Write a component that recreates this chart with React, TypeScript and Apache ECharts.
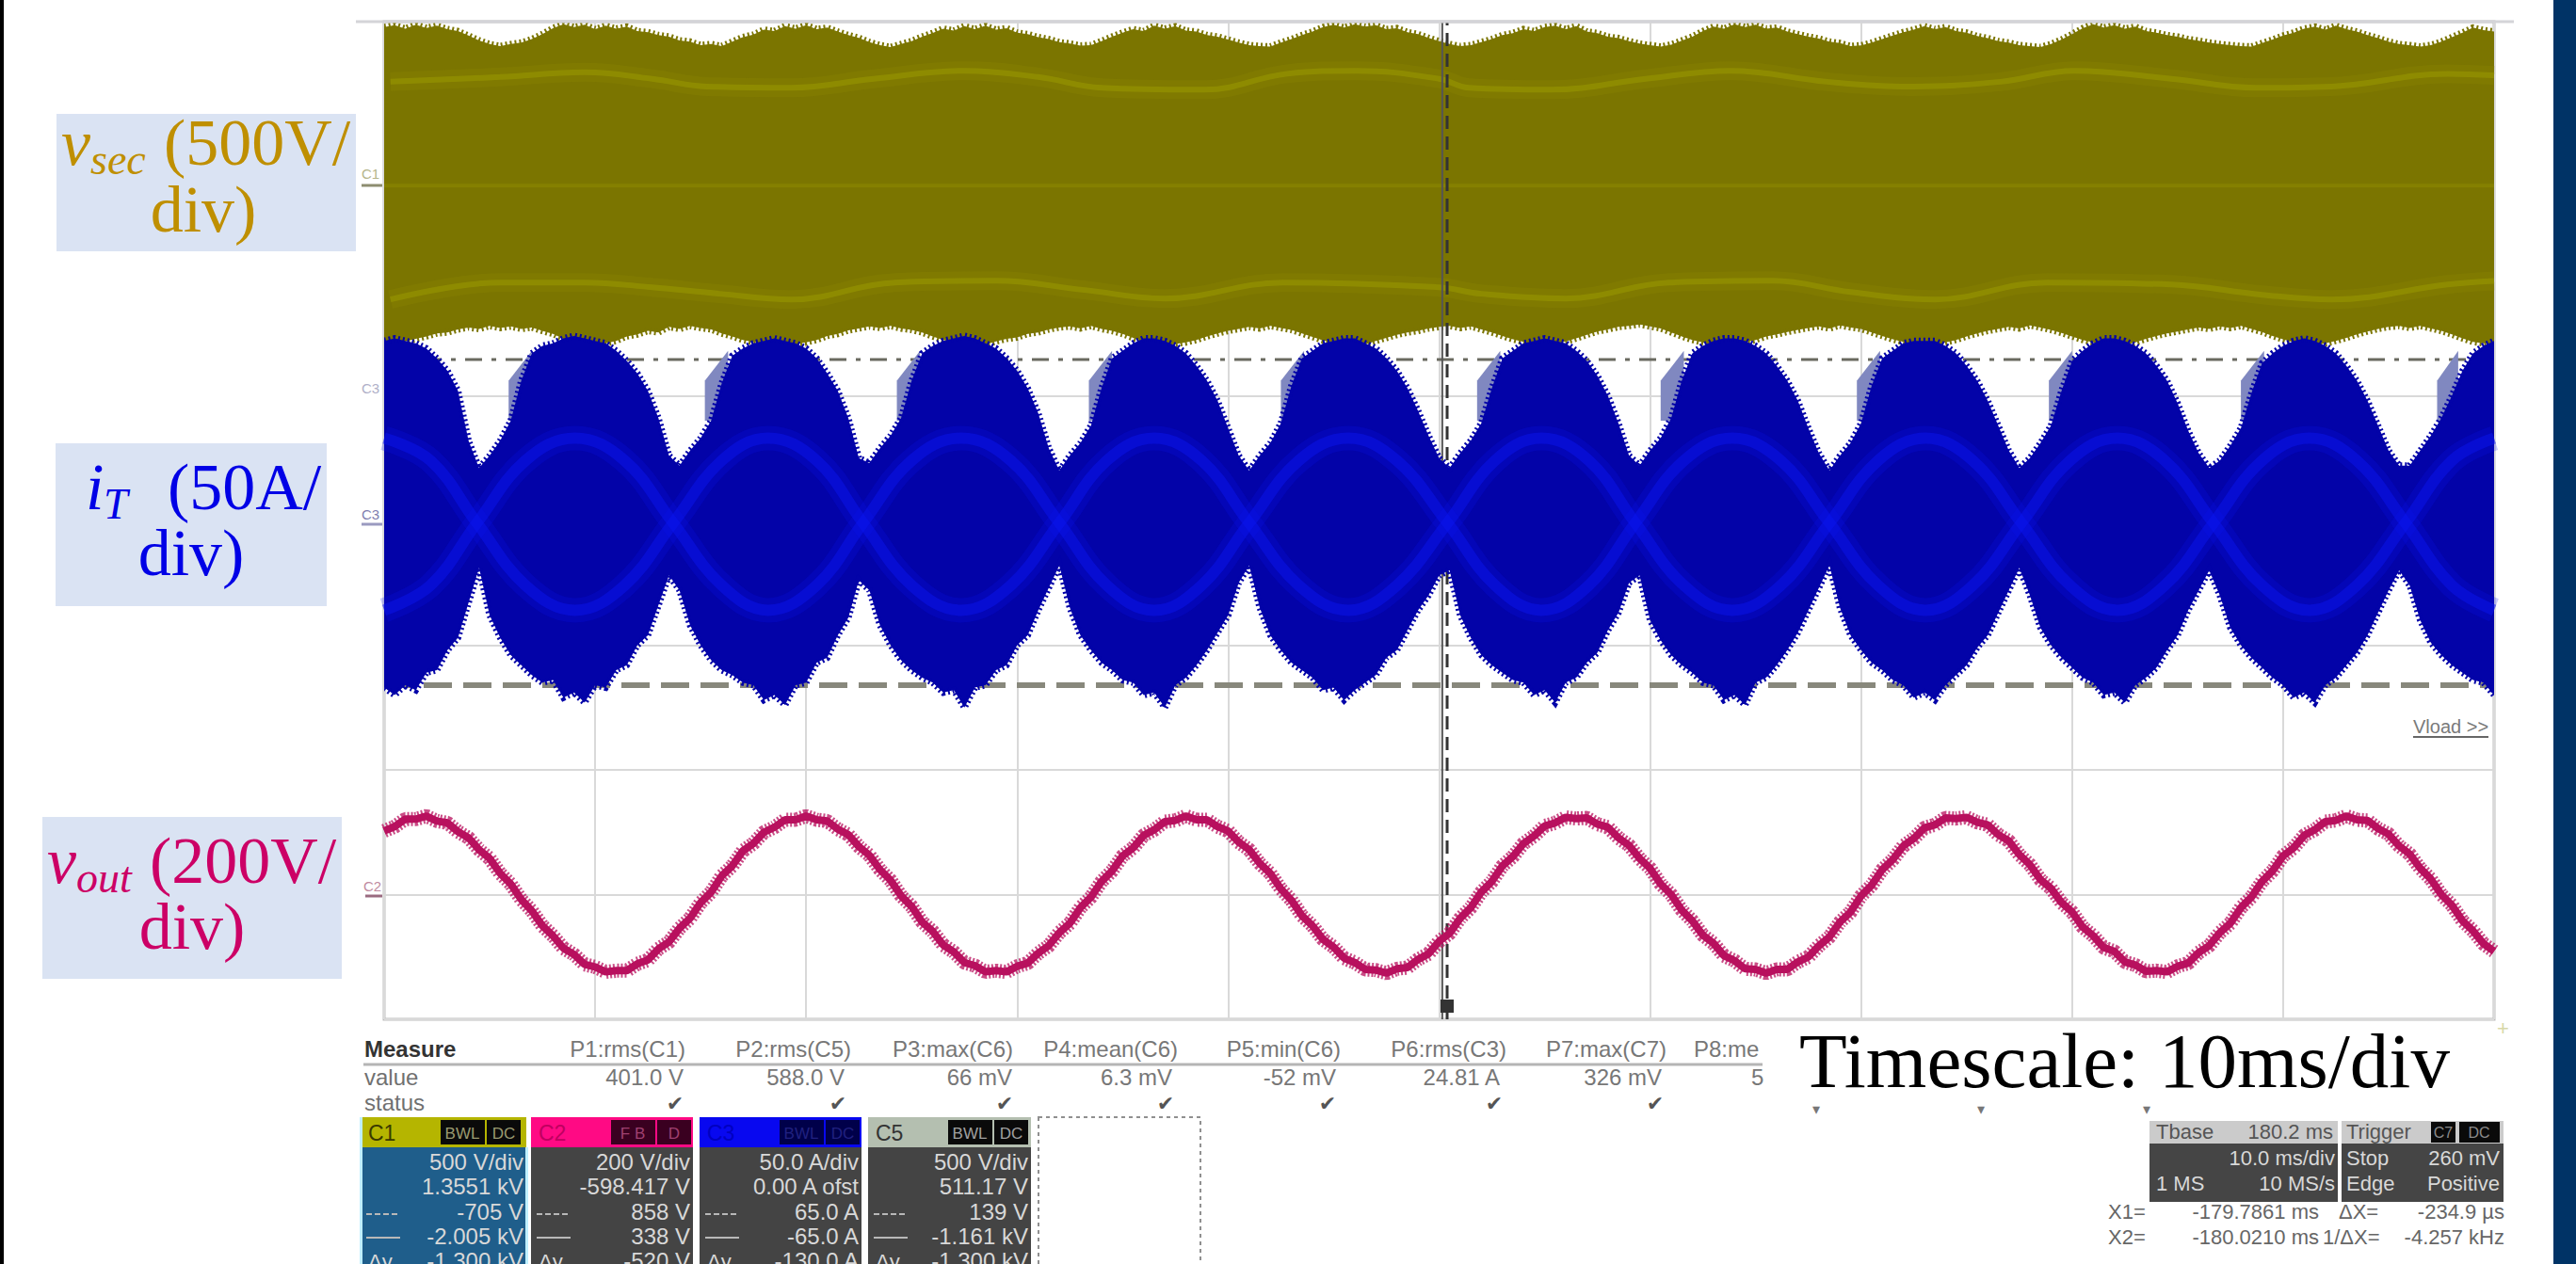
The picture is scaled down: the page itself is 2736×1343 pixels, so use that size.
import React, { useEffect, useRef } from "react";
import * as echarts from "echarts";

const SAMPLE_MS = 0.5;

// v_sec envelope (V), one value per 0.5 ms
const vSecUpper = [
  628,636,622,638,625,634,620,612,594,575,
  560,552,560,566,580,600,624,640,628,638,
  620,634,622,630,612,608,596,590,575,570,
  556,560,552,570,588,598,618,612,632,622,
  636,620,626,610,596,585,568,556,548,560,
  572,590,605,622,614,632,620,634,618,624,
  606,600,588,580,568,562,554,556,572,590,
  606,620,612,634,622,632,614,610,596,590,
  578,566,556,552,550,566,580,596,610,628,
  638,626,640,630,636,620,624,608,600,585,
  572,560,552,556,568,580,596,604,620,612,
  628,634,620,632,610,604,590,584,572,562,
  556,550,558,574,590,612,630,622,640,628,
  638,622,626,610,600,590,582,570,564,552,
  555,566,580,594,608,618,632,620,628,612,
  606,592,584,572,566,556,552,548,560,578,
  600,624,640,626,636,622,630,612,606,596,
  590,580,574,566,560,556,552,550,564,578,
  594,606,622,630,618,634,620,610,596,584,
  570,560,556,550,556,570,588,606,626,616,
  610,
];
const vSecLower = [
  -636,-644,-632,-622,-612,-600,-596,-584,-576,-582,
  -570,-578,-572,-582,-576,-590,-602,-622,-636,-642,
  -648,-640,-630,-612,-604,-590,-596,-574,-582,-570,
  -578,-584,-600,-612,-626,-634,-640,-646,-638,-642,
  -636,-626,-610,-602,-588,-580,-572,-578,-570,-580,
  -586,-596,-612,-626,-636,-646,-640,-644,-632,-622,
  -616,-602,-596,-584,-576,-572,-580,-570,-582,-590,
  -602,-618,-630,-640,-648,-642,-636,-626,-612,-600,
  -590,-582,-574,-580,-570,-578,-586,-600,-614,-628,
  -638,-646,-640,-644,-630,-618,-606,-596,-590,-580,
  -574,-570,-578,-572,-584,-596,-610,-624,-634,-642,
  -648,-640,-632,-620,-606,-592,-584,-574,-570,-564,
  -572,-580,-596,-612,-626,-636,-644,-640,-646,-636,
  -626,-612,-604,-594,-586,-578,-572,-580,-568,-576,
  -582,-596,-610,-624,-634,-642,-640,-648,-636,-626,
  -612,-600,-590,-582,-574,-580,-568,-576,-586,-598,
  -612,-626,-636,-644,-640,-646,-636,-622,-610,-600,
  -592,-584,-576,-582,-572,-578,-570,-582,-594,-610,
  -624,-636,-642,-648,-640,-630,-618,-604,-592,-582,
  -574,-570,-578,-570,-580,-590,-604,-620,-634,-640,
  -644,
];
// brighter strands inside the v_sec band: [ms], [V]
const vSecStrandUpperT = [0.3,5.5,9.5,12.7,15.3,19.3,23.2,27.5,31,34,38.9,42.8,46.1,50,51.4,55.3,59.8,63.8,68.4,72.3,76.6,80.1,84.7,88.7,92.3,97.8,100];
const vSecStrandUpperV = [409,428,447,421,390,385,421,453,428,385,377,441,453,421,385,377,421,453,409,390,409,453,421,385,390,441,435];
const vSecStrandLowerT = [0.3,5.5,9.5,12.7,15.9,19.3,24.2,29,33.2,37,42.6,50,52,56,60.9,65.8,69.5,73.5,78.8,84.7,89,92.3,97.8,100];
const vSecStrandLowerV = [-464,-396,-396,-415,-441,-464,-396,-389,-426,-460,-396,-415,-441,-460,-396,-389,-434,-464,-396,-404,-445,-464,-404,-390];

// i_T envelope (A), one value per 0.5 ms
const iTUpper = [
  72,73,72,71,69,65,60,52,32,21,
  26,32,40,56,67,70,71,73,74,73,
  72,71,68,64,59,52,41,26,22,28,
  33,40,55,66,69,71,72,73,72,71,
  69,65,59,52,41,25,23,29,34,41,
  56,67,70,72,73,74,73,71,69,65,
  60,53,43,29,20,26,31,38,53,65,
  68,71,73,73,72,70,67,62,56,48,
  37,26,20,26,31,39,54,65,68,71,
  72,73,73,71,69,65,60,53,44,34,
  25,21,27,32,39,53,65,68,71,72,
  73,72,71,68,64,58,50,39,26,22,
  28,33,41,56,67,70,72,73,73,72,
  70,67,62,56,48,37,27,20,26,31,
  39,54,65,68,71,72,72,72,70,67,
  62,56,48,38,28,21,25,31,38,52,
  64,68,71,73,73,72,70,67,62,56,
  47,36,27,21,24,30,37,51,63,67,
  70,72,73,72,70,67,62,56,48,38,
  28,22,22,28,34,41,50,60,67,70,
  72,
];
const iTLower = [
  -67,-70,-66,-68,-61,-60,-52,-47,-33,-19,
  -38,-47,-54,-58,-62,-65,-64,-71,-69,-73,
  -66,-67,-60,-58,-50,-46,-34,-22,-28,-42,
  -50,-56,-60,-62,-65,-66,-72,-70,-74,-66,
  -65,-57,-55,-46,-39,-24,-28,-42,-50,-56,
  -60,-63,-65,-69,-68,-75,-67,-66,-60,-58,
  -50,-46,-36,-27,-18,-35,-46,-52,-57,-60,
  -64,-65,-70,-69,-75,-66,-63,-58,-52,-45,
  -38,-25,-18,-35,-46,-52,-57,-60,-63,-68,
  -67,-72,-68,-65,-62,-55,-52,-44,-36,-30,
  -22,-20,-38,-47,-54,-58,-61,-64,-65,-70,
  -68,-73,-65,-63,-57,-53,-44,-37,-25,-22,
  -40,-48,-54,-58,-61,-65,-66,-72,-70,-74,
  -65,-63,-58,-52,-45,-36,-27,-18,-35,-46,
  -52,-57,-60,-64,-66,-71,-69,-72,-66,-62,
  -58,-51,-46,-37,-28,-19,-30,-43,-50,-55,
  -59,-63,-65,-70,-69,-73,-66,-63,-59,-52,
  -46,-36,-28,-20,-30,-43,-50,-55,-59,-63,
  -66,-71,-69,-73,-66,-63,-58,-53,-46,-37,
  -28,-20,-26,-40,-49,-54,-58,-61,-64,-65,
  -70,
];
// bright crossing sinusoids inside the i_T band
const iTRibbonT = [0,2.2,4.4,6.7,9.05,11.4,13.7,16,18.2,20.5,22.7,25,27.35,29.7,32,34.25,36.5,38.75,41,43.35,45.7,48,50.4,52.65,54.85,57.1,59.3,61.6,63.9,66.2,68.5,70.8,73.05,75.3,77.6,79.9,82.15,84.4,86.7,89,91.25,93.5,95.8,98,100];
const iTRibbonA = [33,24,-1,-26,-36,-26,-1,24,33,24,-1,-26,-36,-26,-1,24,33,24,-1,-26,-36,-26,-1,24,33,24,-1,-26,-36,-26,-1,24,33,24,-1,-26,-36,-26,-1,24,33,24,-1,-26,-36];
const iTRibbonB = [-36,-26,-1,24,33,24,-1,-26,-36,-26,-1,24,33,24,-1,-26,-36,-26,-1,24,33,24,-1,-26,-36,-26,-1,24,33,24,-1,-26,-36,-26,-1,24,33,24,-1,-26,-36,-26,-1,24,33];
// lighter strips on the rising edge of each i_T lobe: start ms, end ms
const iTFaintStart = [5.9,15.2,24.3,33.4,42.5,51.8,60.5,69.8,78.9,88,97.3];
const iTFaintEnd = [7,16.3,25.4,34.5,43.6,52.9,61.6,70.9,80,89.1,98.3];
const iTFaintTopLeft = 56;
const iTFaintTopRight = 68;
const iTFaintBottom = 40;

// v_out (V), one value per 0.5 ms
const vOut = [
  102,109,121,121,126,118,115,101,91,72,
  58,34,17,-8,-26,-50,-66,-86,-96,-112,
  -116,-124,-122,-122,-111,-105,-87,-76,-54,-38,
  -13,4,30,46,70,82,100,108,120,120,
  126,120,118,105,96,77,63,40,23,-2,
  -19,-44,-59,-81,-92,-109,-114,-124,-122,-124,
  -115,-110,-94,-82,-61,-46,-21,-4,21,38,
  62,75,95,104,117,119,126,120,120,109,
  102,84,72,50,34,9,-9,-34,-50,-72,
  -84,-102,-109,-120,-121,-126,-119,-117,-104,-95,
  -75,-62,-38,-21,4,21,46,61,82,94,
  110,115,124,122,123,113,108,91,79,58,
  42,17,0,-25,-42,-65,-78,-98,-106,-119,
  -120,-126,-120,-120,-108,-100,-82,-68,-44,-28,
  -2,15,40,56,78,90,107,112,123,122,
  124,116,112,96,86,64,48,24,10,-13,
  -28,-52,-66,-85,-91,-108,-113,-123,-122,-124,
  -115,-110,-93,-82,-61,-46,-21,-4,21,38,
  62,75,95,104,117,119,126,120,119,106,
  97,78,65,42,25,0,-17,-42,-58,-79,
  -91,
];

const cursorSolidMs = 50.15;
const cursorDashMs = 50.38;
const levelHighA = 64.5;
const levelLowA = -66;
const vSecCentreV = -8;

const measureHeads = ["P1:rms(C1)", "P2:rms(C5)", "P3:max(C6)", "P4:mean(C6)", "P5:min(C6)", "P6:rms(C3)", "P7:max(C7)"];
const measureVals = ["401.0 V", "588.0 V", "66 mV", "6.3 mV", "-52 mV", "24.81 A", "326 mV"];
const channelNames = ["C1", "C2", "C3", "C5"];
const channelRows = [
  ["500 V/div", "1.3551 kV", "-705 V", "-2.005 kV", "-1.300 kV"],
  ["200 V/div", "-598.417 V", "858 V", "338 V", "-520 V"],
  ["50.0 A/div", "0.00 A ofst", "65.0 A", "-65.0 A", "-130.0 A"],
  ["500 V/div", "511.17 V", "139 V", "-1.161 kV", "-1.300 kV"],
];

const SERIF = '"Liberation Serif", serif';
const SANS = '"Liberation Sans", Arial, sans-serif';
const Z = 100;

function T(text: string, x: number, base: number, size: number, fill: string, align = "left", opts: any = {}) {
  const family = opts.family || SANS;
  const italic = opts.italic ? "italic " : "";
  const weight = opts.bold ? "bold " : "";
  return {
    type: "text",
    z: Z + 2,
    silent: true,
    x,
    y: base - size * 0.34,
    style: {
      text,
      font: `${italic}${weight}${size}px ${family}`,
      fill,
      textAlign: align,
      textVerticalAlign: "middle",
    },
  };
}
function R(x: number, y: number, w: number, h: number, fill: string, extra: any = {}) {
  return { type: "rect", z: Z, silent: true, shape: { x, y, width: w, height: h }, style: { fill, ...extra } };
}
function L(x1: number, y1: number, x2: number, y2: number, stroke: string, lineWidth = 2, lineDash?: number[]) {
  return { type: "line", z: Z, silent: true, shape: { x1, y1, x2, y2 }, style: { stroke, lineWidth, lineDash } };
}

function bandSeries(name: string, upper: number[], lower: number[], fill: string, yAxisIndex: number, z: number, comb: number) {
  const data = upper.map((u, i) => [i * SAMPLE_MS, u, lower[i]]);
  return {
    name,
    type: "custom",
    yAxisIndex,
    z,
    silent: true,
    clip: true,
    encode: { x: 0, y: [1, 2] },
    data,
    renderItem(params: any, api: any) {
      if (params.dataIndex !== 0) return null;
      const top = data.map((d) => api.coord([d[0], d[1]]));
      const bottom = data.map((d) => api.coord([d[0], d[2]])).reverse();
      return {
        type: "polygon",
        shape: { points: top.concat(bottom) },
        style: { fill, stroke: fill, lineWidth: comb, lineDash: [2, 3] },
      };
    },
  };
}

function lineSeries(name: string, data: number[][], color: string, width: number, yAxisIndex: number, z: number, extra: any = {}, smooth: any = false) {
  return {
    name,
    type: "line",
    data,
    yAxisIndex,
    z,
    symbol: "none",
    silent: true,
    smooth,
    lineStyle: { color, width, ...extra },
  };
}

const zip = (t: number[], v: number[]) => t.map((x, i) => [x, v[i]]);

function buildGraphics() {
  const g: any[] = [];
  // page edges
  g.push(R(0, 0, 4, 1343, "#000000"));
  g.push(R(2712, 0, 24, 1343, "#003366"));
  g.push(L(378, 23, 2670, 23, "#d4d4d8", 3));

  // trace labels
  g.push(R(60, 121, 318, 146, "#DAE3F3"));
  g.push(T("v", 65, 175, 70, "#BF8F00", "left", { family: SERIF, italic: true }));
  g.push(T("sec", 96, 185, 46, "#BF8F00", "left", { family: SERIF, italic: true }));
  g.push(T("(500V/", 174, 175, 70, "#BF8F00", "left", { family: SERIF }));
  g.push(T("div)", 216, 246, 70, "#BF8F00", "center", { family: SERIF }));

  g.push(R(59, 471, 288, 173, "#DAE3F3"));
  g.push(T("i", 91, 541, 70, "#0000E6", "left", { family: SERIF, italic: true }));
  g.push(T("T", 110, 551, 46, "#0000E6", "left", { family: SERIF, italic: true }));
  g.push(T("(50A/", 178, 541, 70, "#0000E6", "left", { family: SERIF }));
  g.push(T("div)", 203, 611, 70, "#0000E6", "center", { family: SERIF }));

  g.push(R(45, 868, 318, 172, "#DAE3F3"));
  g.push(T("v", 50, 938, 70, "#CC0066", "left", { family: SERIF, italic: true }));
  g.push(T("out", 81, 948, 46, "#CC0066", "left", { family: SERIF, italic: true }));
  g.push(T("(200V/", 159, 938, 70, "#CC0066", "left", { family: SERIF }));
  g.push(T("div)", 204, 1008, 70, "#CC0066", "center", { family: SERIF }));

  // channel tags left of the plot
  g.push(T("C1", 384, 190, 15, "#b5b58a"));
  g.push(L(384, 197, 406, 197, "#8d8d70", 3));
  g.push(T("C3", 384, 418, 15, "#b0b0c8"));
  g.push(T("C3", 384, 552, 15, "#7f7fb0"));
  g.push(L(384, 557, 406, 557, "#9a9ac0", 3));
  g.push(T("C2", 386, 947, 15, "#c08aa0"));
  g.push(L(388, 952, 406, 952, "#9a6a80", 3));
  g.push(T("Vload >>", 2563, 779, 20, "#7a7a7a"));
  g.push(L(2563, 783, 2643, 783, "#666666", 2));
  g.push(T("+", 2652, 1100, 22, "#d8d8a8"));
  g.push(R(1530, 1062, 14, 14, "#333333"));

  // measure table
  g.push(T("Measure", 387, 1123, 24, "#333333", "left", { bold: true }));
  g.push(T("value", 387, 1153, 24, "#707070"));
  g.push(T("status", 387, 1180, 24, "#707070"));
  g.push(L(386, 1131, 1872, 1131, "#b5b5b5", 3));
  const headR = [728, 904, 1076, 1251, 1424, 1600, 1770];
  const valR = [726, 897, 1075, 1245, 1419, 1593, 1765];
  const tickX = [717, 890, 1067, 1238, 1410, 1587, 1758];
  measureHeads.forEach((h, i) => g.push(T(h, headR[i], 1123, 24, "#777777", "right")));
  measureVals.forEach((v, i) => g.push(T(v, valR[i], 1153, 24, "#777777", "right")));
  tickX.forEach((x) => g.push(T("✔", x, 1180, 22, "#555555", "center", { family: '"DejaVu Sans"' })));
  [1929, 2104, 2280].forEach((x) => g.push(T("▾", x, 1184, 16, "#777777", "center", { family: '"DejaVu Sans"' })));
  g.push(T("P8:me", 1799, 1123, 24, "#777777"));
  g.push(T("5", 1860, 1153, 24, "#777777"));

  // channel boxes
  const colX = [383, 564, 743, 922];
  const colW = [176, 172, 172, 173];
  const heads = ["#B5B500", "#FF0A84", "#0808F0", "#B4BFB0"];
  const headText = ["#3a3a00", "#c00060", "#0000c0", "#333333"];
  const tagFill = ["#0a0a0a", "#3a0020", "#00004a", "#0a0a0a"];
  const tagText = ["#9a9a70", "#a04070", "#202080", "#a0a0a0"];
  const tagA = ["BWL", "F B", "BWL", "BWL"];
  const body = ["#1F5E8B", "#444444", "#444444", "#444444"];
  channelNames.forEach((name, c) => {
    const x = colX[c];
    const w = colW[c];
    g.push(R(x, 1187, w, 32, heads[c]));
    g.push(R(x + 85, 1190, 47, 26, tagFill[c]));
    g.push(R(x + 134, 1190, 36, 26, tagFill[c]));
    g.push(T(name, x + 8, 1212, 23, headText[c]));
    g.push(T(tagA[c], x + 108, 1210, 17, tagText[c], "center"));
    g.push(T(c === 1 ? "D" : "DC", x + 152, 1210, 17, tagText[c], "center"));
    g.push(R(x, 1219, w, 130, body[c]));
    if (c === 0) {
      g.push(R(x - 1, 1187, 3, 160, "#BFEFFF"));
      g.push(R(x + w - 1, 1219, 3, 130, "#BFEFFF"));
    }
    const bases = [1243, 1269, 1296, 1322, 1348];
    channelRows[c].forEach((row, r) => {
      g.push(T(row, x + w - 3, bases[r], 24, "#d8d8d8", "right"));
    });
    g.push(L(x + 6, 1290, x + 42, 1290, "#b8b8b8", 2, [6, 3]));
    g.push(L(x + 6, 1315, x + 42, 1315, "#b8b8b8", 2));
    g.push(T("Δy", x + 8, 1348, 22, "#d8d8d8"));
  });
  g.push({
    type: "rect",
    z: Z,
    silent: true,
    shape: { x: 1103, y: 1187, width: 172, height: 170 },
    style: { fill: "#ffffff", stroke: "#909090", lineWidth: 2, lineDash: [4, 4] },
  });

  // time base panel
  g.push(R(2283, 1191, 200, 24, "#CBCBCB"));
  g.push(R(2487, 1191, 172, 24, "#CBCBCB"));
  g.push(R(2283, 1215, 200, 62, "#454545"));
  g.push(R(2487, 1215, 172, 62, "#454545"));
  g.push(R(2582, 1192, 26, 22, "#0a0a0a"));
  g.push(R(2612, 1192, 43, 22, "#0a0a0a"));
  g.push(T("Tbase", 2290, 1210, 22, "#555555"));
  g.push(T("180.2 ms", 2478, 1210, 22, "#555555", "right"));
  g.push(T("Trigger", 2492, 1210, 22, "#555555"));
  g.push(T("C7", 2595, 1209, 16, "#8a8a8a", "center"));
  g.push(T("DC", 2633, 1209, 16, "#8a8a8a", "center"));
  g.push(T("10.0 ms/div", 2480, 1238, 22, "#d8d8d8", "right"));
  g.push(T("Stop", 2492, 1238, 22, "#d8d8d8"));
  g.push(T("260 mV", 2655, 1238, 22, "#d8d8d8", "right"));
  g.push(T("1 MS", 2290, 1265, 22, "#d8d8d8"));
  g.push(T("10 MS/s", 2480, 1265, 22, "#d8d8d8", "right"));
  g.push(T("Edge", 2492, 1265, 22, "#d8d8d8"));
  g.push(T("Positive", 2655, 1265, 22, "#d8d8d8", "right"));
  g.push(T("X1=", 2239, 1295, 22, "#666666"));
  g.push(T("-179.7861 ms", 2463, 1295, 22, "#666666", "right"));
  g.push(T("ΔX=", 2484, 1295, 22, "#666666"));
  g.push(T("-234.9 µs", 2660, 1295, 22, "#666666", "right"));
  g.push(T("X2=", 2239, 1322, 22, "#666666"));
  g.push(T("-180.0210 ms", 2463, 1322, 22, "#666666", "right"));
  g.push(T("1/ΔX=", 2467, 1322, 22, "#666666"));
  g.push(T("-4.257 kHz", 2660, 1322, 22, "#666666", "right"));

  // time scale caption on its white patch
  g.push({ ...R(1872, 1090, 780, 84, "#ffffff"), z: Z + 1 });
  g.push(T("Timescale: 10ms/div", 1911, 1155, 83, "#000000", "left", { family: SERIF }));
  return g;
}

export default function App() {
  const ref = useRef<HTMLDivElement>(null);
  useEffect(() => {
    document.body.style.margin = "0";
    document.body.style.background = "#ffffff";
    const chart = echarts.init(ref.current!, undefined, { renderer: "svg" });
    const hiddenY = { type: "value", axisLine: { show: false }, axisTick: { show: false }, axisLabel: { show: false }, splitLine: { show: false } };
    const vOutPoints = vOut.map((v, i) => [i * SAMPLE_MS, v]);
    const strandUpper = zip(vSecStrandUpperT, vSecStrandUpperV);
    const strandLower = zip(vSecStrandLowerT, vSecStrandLowerV);
    const ribbonA = zip(iTRibbonT, iTRibbonA);
    const ribbonB = zip(iTRibbonT, iTRibbonB);
    const option: any = {
      animation: false,
      backgroundColor: "#ffffff",
      grid: { left: 408, top: 23, width: 2241, height: 1060, show: true, borderColor: "#bdbdbd", borderWidth: 3, backgroundColor: "#ffffff" },
      xAxis: {
        type: "value",
        min: 0,
        max: 100,
        interval: 10,
        axisLine: { show: false },
        axisTick: { show: false },
        axisLabel: { show: false },
        splitLine: { show: true, lineStyle: { color: "#d9d9d9", width: 2 } },
      },
      yAxis: [
        { ...hiddenY, min: -200, max: 1400, interval: 200, splitLine: { show: true, lineStyle: { color: "#d9d9d9", width: 2 } } },
        { ...hiddenY, min: -200, max: 200, interval: 50 },
        { ...hiddenY, min: -3350, max: 650, interval: 500 },
      ],
      graphic: { elements: buildGraphics() },
      series: [
        lineSeries("level high", [[0, levelHighA], [100, levelHighA]], "#6a6a60", 3, 1, 2, { type: [18, 10, 5, 10] }),
        lineSeries("level low", [[0, levelLowA], [100, levelLowA]], "#88887c", 6, 1, 2, { type: [30, 12] }),
        bandSeries("v_sec", vSecUpper, vSecLower, "#7B7500", 2, 3, 7),
        lineSeries("v_sec centre", [[0, vSecCentreV], [100, vSecCentreV]], "#858000", 4, 2, 4),
        lineSeries("v_sec haze upper", strandUpper, "#8F8D00", 20, 2, 4, { opacity: 0.25 }, 0.4),
        lineSeries("v_sec haze lower", strandLower, "#8F8D00", 20, 2, 4, { opacity: 0.25 }, 0.4),
        lineSeries("v_sec strand upper", strandUpper, "#939200", 6, 2, 4, { opacity: 0.75 }, 0.4),
        lineSeries("v_sec strand lower", strandLower, "#939200", 6, 2, 4, { opacity: 0.75 }, 0.4),
        lineSeries("cursor solid", [[cursorSolidMs, -200], [cursorSolidMs, 1400]], "#555555", 2, 0, 5),
        lineSeries("cursor dash", [[cursorDashMs, -200], [cursorDashMs, 1400]], "#333333", 3, 0, 5, { type: [14, 8] }),
        {
          name: "i_T faint",
          type: "custom",
          yAxisIndex: 1,
          z: 6,
          silent: true,
          encode: { x: [0, 1], y: [2, 3, 4] },
          data: iTFaintStart.map((s, i) => [s, iTFaintEnd[i], iTFaintTopLeft, iTFaintTopRight, iTFaintBottom]),
          renderItem(_p: any, api: any) {
            const x0 = api.value(0);
            const x1 = api.value(1);
            const points = [
              api.coord([x0, api.value(4)]),
              api.coord([x0, api.value(2)]),
              api.coord([x1, api.value(3)]),
              api.coord([x1, api.value(4)]),
            ];
            return { type: "polygon", shape: { points }, style: { fill: "#8088C0" } };
          },
        },
        bandSeries("i_T", iTUpper, iTLower, "#0303A8", 1, 7, 7),
        lineSeries("i_T haze A", ribbonA, "#0A14EE", 26, 1, 8, { opacity: 0.22 }, 0.4),
        lineSeries("i_T haze B", ribbonB, "#0A14EE", 26, 1, 8, { opacity: 0.22 }, 0.4),
        lineSeries("i_T ribbon A", ribbonA, "#0A14EE", 12, 1, 8, { opacity: 0.5 }, 0.4),
        lineSeries("i_T ribbon B", ribbonB, "#0A14EE", 12, 1, 8, { opacity: 0.5 }, 0.4),
        lineSeries("v_out comb", vOutPoints, "#B8105E", 15, 0, 9, { type: [2, 2], opacity: 0.75 }),
        lineSeries("v_out", vOutPoints, "#B8105E", 8, 0, 9),
      ],
    };
    chart.setOption(option);
    return () => chart.dispose();
  }, []);
  return <div ref={ref} style={{ position: "absolute", left: 0, top: 0, width: 2736, height: 1343, overflow: "hidden" }} />;
}
